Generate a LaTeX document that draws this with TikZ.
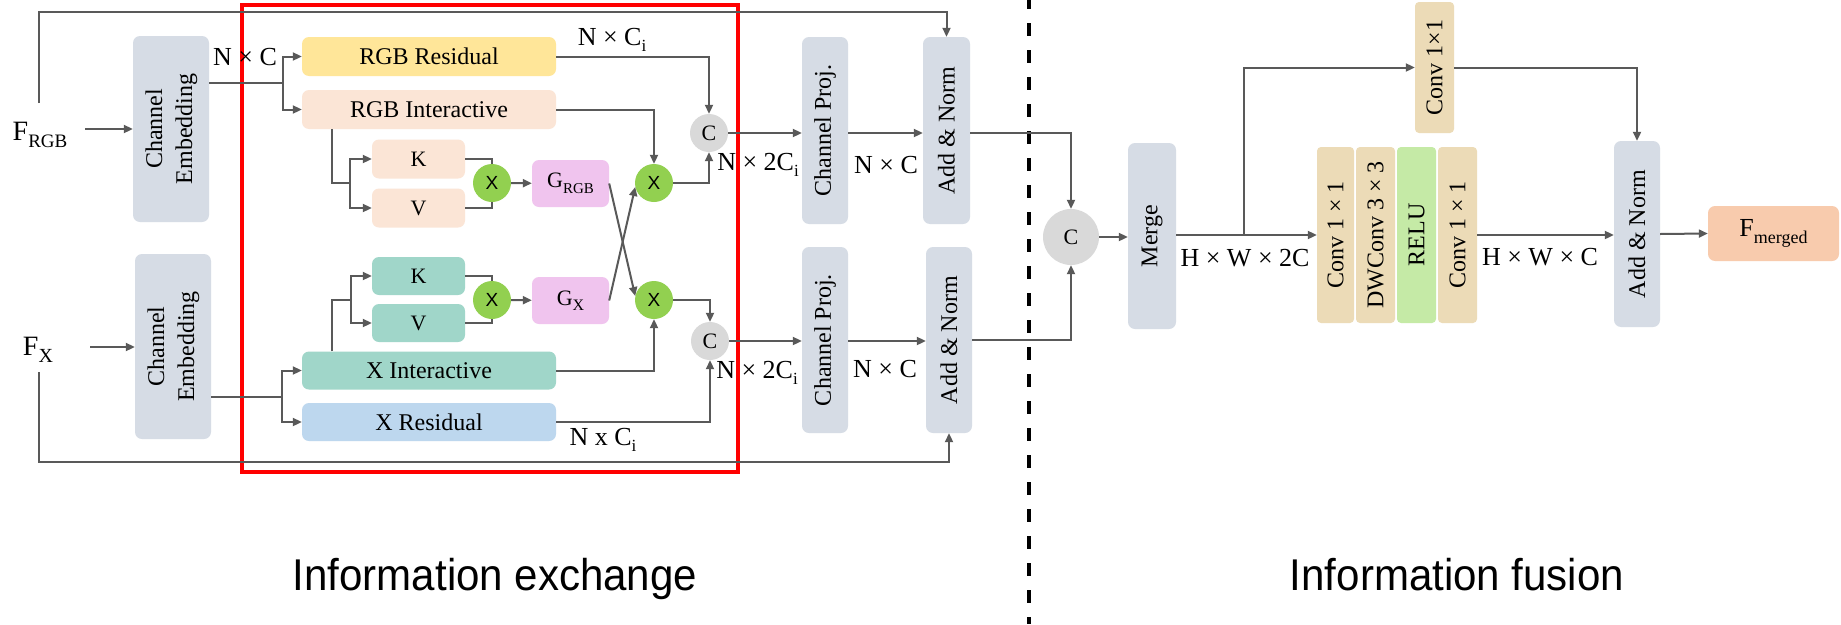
\documentclass[tikz,border=0pt]{standalone}
\usepackage{fontspec}
\setmainfont{Liberation Serif}
\newfontfamily\sansf{Liberation Sans}
\usetikzlibrary{arrows.meta}
\definecolor{lgray}{HTML}{595959}
\definecolor{cgray}{HTML}{D6DCE5}
\definecolor{cyel}{HTML}{FFE699}
\definecolor{cpeach}{HTML}{FBE5D6}
\definecolor{cteal}{HTML}{A0D6C9}
\definecolor{cblue}{HTML}{BDD7EE}
\definecolor{cpink}{HTML}{F0C4EE}
\definecolor{cgreen}{HTML}{92D050}
\definecolor{clg}{HTML}{D9D9D9}
\definecolor{ctan}{HTML}{ECDBB7}
\definecolor{crelu}{HTML}{C5EAA6}
\definecolor{corange}{HTML}{F8CBAD}
\newcommand\fs[1]{\fontsize{#1}{#1}\selectfont}
\newcommand\subs[2][18]{\raisebox{-0.25em}{\fs{#1}#2}}
\newcommand\vt[1]{\rotatebox{90}{#1}}
\newcommand\narrow[1]{\scalebox{0.945}[1]{#1}}
\begin{document}
\begin{tikzpicture}[x=1pt,y=-1pt,
  ln/.style={draw=lgray, line width=2pt},
  arr/.style={ln, -{Triangle[length=9pt,width=8pt]}},
  bx/.style={rounded corners=7pt, inner sep=0pt, align=center, font=\fontsize{24}{30}\selectfont},
  gbx/.style={bx, fill=cgray},
  crc/.style={circle, inner sep=0pt, minimum size=38},
  mul/.style={crc, fill=cgreen, font=\sansf\fs{19}},
  cat/.style={crc, fill=clg, font=\fs{22}},
  lbl/.style={inner sep=0pt, font=\fs{26}},
  ttl/.style={inner sep=0pt, anchor=base, font=\sansf\fs{44.5}}]
\fill[white] (0,0) rectangle (1841,624);
\useasboundingbox (0,0) rectangle (1841,624);

% ---------- left part ----------
\node[inner sep=0pt, font=\fs{28}] (fr) at (40,135) {F\subs[19]{RGB}};
\node[inner sep=0pt, font=\fs{28}] (fx) at (38,350) {F\subs[20]{X}};
\node[gbx, minimum width=76, minimum height=186] (ce1) at (171,129) {\vt{\begin{tabular}{@{}c@{}}Channel\\Embedding\end{tabular}}};
\node[gbx, minimum width=76, minimum height=185] (ce2) at (173,346.5) {\vt{\begin{tabular}{@{}c@{}}Channel\\Embedding\end{tabular}}};

\node[bx, fill=cyel, minimum width=254, minimum height=39] (rr) at (429,56.5) {RGB Residual};
\node[bx, fill=cpeach, minimum width=254, minimum height=39] (ri) at (429,109.5) {RGB Interactive};
\node[bx, fill=cpeach, minimum width=93, minimum height=39, font=\fs{22}] (k1) at (418.5,159) {K};
\node[bx, fill=cpeach, minimum width=93, minimum height=39, font=\fs{22}] (v1) at (418.5,208) {V};
\node[mul] (m1) at (492,183) {X};
\node[bx, fill=cpink, minimum width=77, minimum height=47, font=\fs{22}] (g1) at (570.5,183.5) {G\subs[15]{RGB}};
\node[mul] (m2) at (654,183) {X};
\node[cat] (c1) at (709,133) {C};

\node[bx, fill=cteal, minimum width=93, minimum height=38, font=\fs{22}] (k2) at (418.5,276) {K};
\node[bx, fill=cteal, minimum width=93, minimum height=38, font=\fs{22}] (v2) at (418.5,323) {V};
\node[mul] (m3) at (492,300) {X};
\node[bx, fill=cpink, minimum width=77, minimum height=47, font=\fs{22}] (g2) at (570.5,300.5) {G\subs[16]{X}};
\node[mul] (m4) at (654,300) {X};
\node[bx, fill=cteal, minimum width=254, minimum height=38] (xi) at (429,370.5) {X Interactive};
\node[bx, fill=cblue, minimum width=254, minimum height=38] (xr) at (429,422) {X Residual};
\node[cat] (c2) at (710,341) {C};

\node[gbx, minimum width=46, minimum height=187] (cp1) at (825,130.5) {\vt{Channel Proj.}};
\node[gbx, minimum width=47, minimum height=187] (an1) at (946.5,130.5) {\vt{Add \& Norm}};
\node[gbx, minimum width=46, minimum height=186] (cp2) at (825,340) {\vt{Channel Proj.}};
\node[gbx, minimum width=46, minimum height=186] (an2) at (949,340) {\vt{Add \& Norm}};

\draw[red, line width=3.5pt] (242,5) rectangle (738,472);

% labels
\node[lbl] (l1) at (245,57) {N × C};
\node[lbl] (l2) at (612,40) {N × C\subs[17]{i}};
\node[lbl] (l3) at (758,165) {N × 2C\subs[17]{i}};
\node[lbl] (l4) at (886,165) {N × C};
\node[lbl] (l5) at (757,373) {N × 2C\subs[17]{i}};
\node[lbl] (l6) at (885,369) {N × C};
\node[lbl] (l7) at (603,440) {N x C\subs[17]{i}};

% connectors left
\coordinate (fre) at (85,129);
\coordinate (fxe) at (90,347);
\draw[arr] (fre) -- (ce1.west |- fre);
\draw[arr] (fxe) -- (ce2.west |- fxe);
\coordinate (t1) at (39,103);
\coordinate (top1) at (39,12);
\draw[arr] (t1) -- (top1) -| (an1.north);
\coordinate (t4) at (39,372);
\coordinate (bot1) at (39,462);
\draw[arr] (t4) -- (bot1) -| (an2.south);

\coordinate (b1) at (283,83);
\draw[ln] (b1 -| ce1.east) -- (b1);
\draw[arr] (b1) |- (rr.west);
\draw[arr] (b1) |- (ri.west);
\coordinate (b4) at (282,397);
\draw[ln] (b4 -| ce2.east) -- (b4);
\draw[arr] (b4) |- (xi.west);
\draw[arr] (b4) |- (xr.west);

\coordinate (t2) at (332,183);
\coordinate (b2) at (350,183);
\draw[ln] (t2 |- ri.south) -- (t2) -- (b2);
\draw[arr] (b2) |- (k1.west);
\draw[arr] (b2) |- (v1.west);
\coordinate (t3) at (332,300);
\coordinate (b3) at (351,300);
\draw[ln] (t3 |- xi.north) -- (t3) -- (b3);
\draw[arr] (b3) |- (k2.west);
\draw[arr] (b3) |- (v2.west);

\draw[ln] (k1.east) -| (m1.north);
\draw[ln] (v1.east) -| (m1.south);
\draw[ln] (k2.east) -| (m3.north);
\draw[ln] (v2.east) -| (m3.south);
\draw[arr] (m1) -- (g1);
\draw[arr] (m3) -- (g2);
\draw[arr] (g1.east) -- (m4.168);
\draw[arr] (g2.east) -- (m2.192);

\draw[arr] (rr.east) -| (c1.north);
\draw[arr] (ri.east) -| (m2.north);
\draw[arr] (m2.east) -| (c1.south);
\draw[arr] (xi.east) -| (m4.south);
\draw[arr] (m4.east) -| (c2.north);
\draw[arr] (xr.east) -| (c2.south);

\draw[arr] (c1.east) -- (cp1.west |- c1.east);
\draw[arr] (cp1.east |- c1.east) -- (an1.west |- c1.east);
\draw[arr] (c2.east) -- (cp2.west |- c2.east);
\draw[arr] (cp2.east |- c2.east) -- (an2.west |- c2.east);

% divider
\draw[black, line width=3.5pt, dash pattern=on 13pt off 14pt, dash phase=4pt] (1029,0) -- (1029,624);

% ---------- right part ----------
\node[crc, minimum size=56, fill=clg, font=\fs{22}] (c3) at (1071,237) {C};
\node[gbx, minimum width=48, minimum height=186] (mg) at (1152,236) {\vt{Merge}};
\node[bx, fill=ctan, minimum width=37, minimum height=176, rounded corners=4pt] (cv1) at (1335.5,235) {\vt{Conv 1 × 1}};
\node[bx, fill=ctan, minimum width=39, minimum height=176, rounded corners=4pt] (dw) at (1375.5,235) {\vt{DWConv 3 × 3}};
\node[bx, fill=crelu, minimum width=39, minimum height=176, rounded corners=4pt] (relu) at (1416.5,235) {\vt{RELU}};
\node[bx, fill=ctan, minimum width=39, minimum height=176, rounded corners=4pt] (cv2) at (1457.5,235) {\vt{Conv 1 × 1}};
\node[bx, fill=ctan, minimum width=39, minimum height=131, rounded corners=4pt] (cvt) at (1434.5,67.5) {\vt{Conv 1×1}};
\node[gbx, minimum width=46, minimum height=186] (an3) at (1637,234) {\vt{Add \& Norm}};
\node[bx, fill=corange, minimum width=131, minimum height=55, font=\fs{26}] (fm) at (1773.5,233.5) {F\subs[18]{merged}};

\node[lbl] (l8) at (1245,258) {H × W × 2C};
\node[lbl] (l9) at (1540,257) {H × W × C};

\draw[arr] (an1.east |- c1.east) -| (c3.north);
\draw[arr] (an2.east) -| (c3.south);
\draw[arr] (c3.east) -- (mg.west |- c3.east);
\draw[arr] (mg.east |- cv1.west) -- (cv1.west);
\coordinate (b5) at (1244,235);
\draw[arr] (b5) |- (cvt.west);
\draw[arr] (cvt.east) -| (an3.north);
\draw[arr] (cv2.east) -- (an3.west |- cv2.east);
\draw[arr] (an3.east) -- (fm.west);

% titles
\node[ttl] (tt1) at (495,590) {\narrow{Information exchange}};
\node[ttl] (tt2) at (1457,590) {\narrow{Information fusion}};
\end{tikzpicture}
\end{document}
